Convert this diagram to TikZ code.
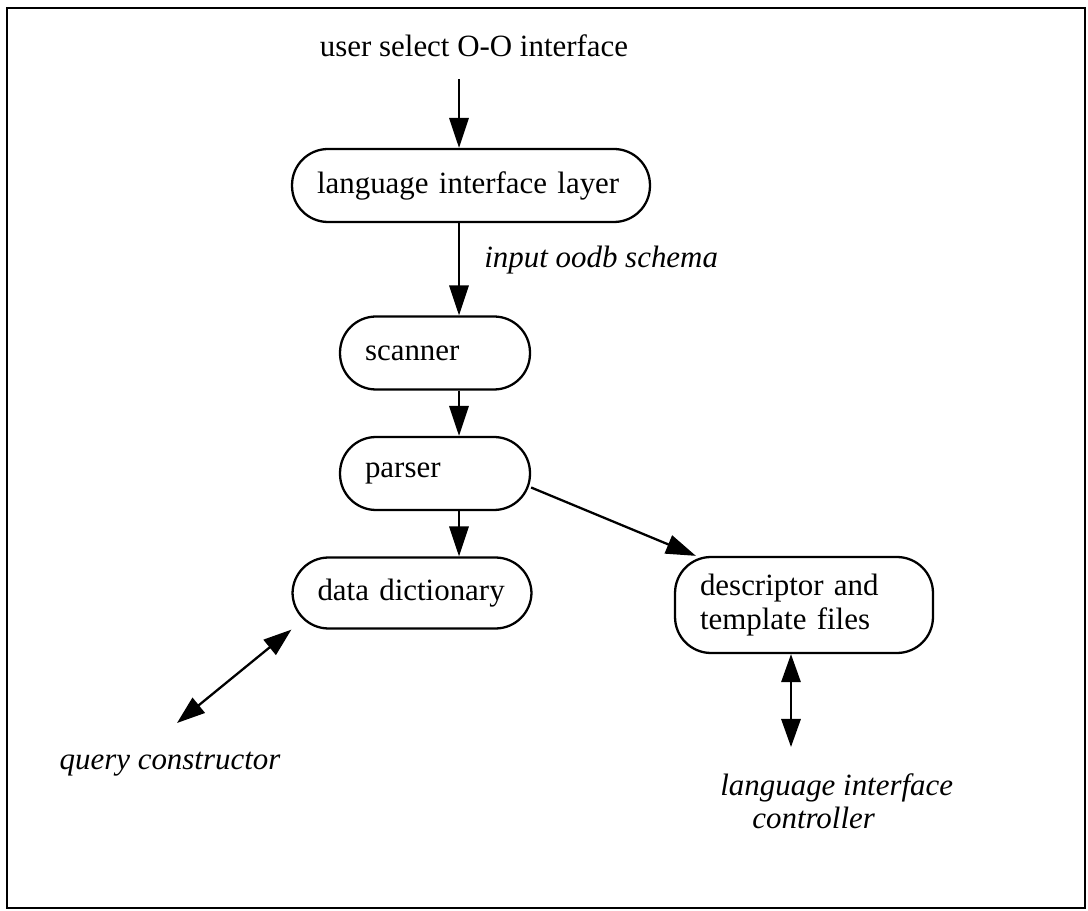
\documentclass[tikz,border=0pt]{standalone}
\usepackage{fontspec}
\setmainfont{Liberation Serif}
\usetikzlibrary{arrows.meta}

\begin{document}
\begin{tikzpicture}[x=0.02cm, y=-0.02cm]
  \tikzset{stage/.style={draw, line width=1.3pt, rounded corners=0.72cm,
                         inner xsep=0.5cm, inner ysep=0pt, align=left,
                         font=\fontsize{17.6}{19}\selectfont},
           plain/.style={inner sep=0pt, font=\fontsize{17.6}{19}\selectfont},
           note/.style={inner sep=0pt, align=left, font=\fontsize{17.6}{19}\selectfont\itshape},
           flow/.style={line width=1.3pt, -{Triangle[length=17pt,width=11pt]}},
           both/.style={line width=1.3pt,
                        {Triangle[length=16pt,width=11pt]}-{Triangle[length=16pt,width=11pt]}}}
  \useasboundingbox (0,0) rectangle (1088,911);
  \draw[line width=1.3pt] (7,8) rectangle (1085,908);

  \node[plain] (user) at (474,46) {user select O-O interface};
  \node[stage, minimum height=1.46cm, text width=6.16cm] (lang) at (471,185.5) {language interface layer};
  \node[note, anchor=west] (schema) at (484,260) {input oodb schema};
  \node[stage, minimum height=1.46cm, text width=2.8cm] (scan) at (435,353) {scanner};
  \node[stage, minimum height=1.46cm, text width=2.8cm] (parse) at (435,473.5) {parser};
  \node[stage, minimum height=1.42cm, text width=3.78cm] (dict) at (412,593) {data dictionary};
  \node[stage, minimum height=1.92cm, text width=4.16cm] (desc) at (804,605) {descriptor and\\template files};
  \node[note] (query) at (170,764) {query constructor};
  \node[note, anchor=west] (ctrl) at (720,801) {language interface\\\hspace*{0.64cm}controller};

  \coordinate (spine) at (459,0);
  \coordinate (qend) at (177,723);
  \coordinate (cend) at (791,747);

  \draw[flow, shorten <=0.44cm] (user.south -| spine) -- (lang.north -| spine);
  \draw[flow] (lang.south -| spine) -- (scan.north -| spine);
  \draw[flow] (scan.south -| spine) -- (parse.north -| spine);
  \draw[flow] (parse.south -| spine) -- (dict.north -| spine);
  \draw[flow] ([yshift=-0.28cm]parse.east) -- ([xshift=0.44cm]desc.north west);
  \draw[both] (dict.south west) -- (qend);
  \draw[both] (desc.south -| cend) -- (cend);
\end{tikzpicture}
\end{document}
